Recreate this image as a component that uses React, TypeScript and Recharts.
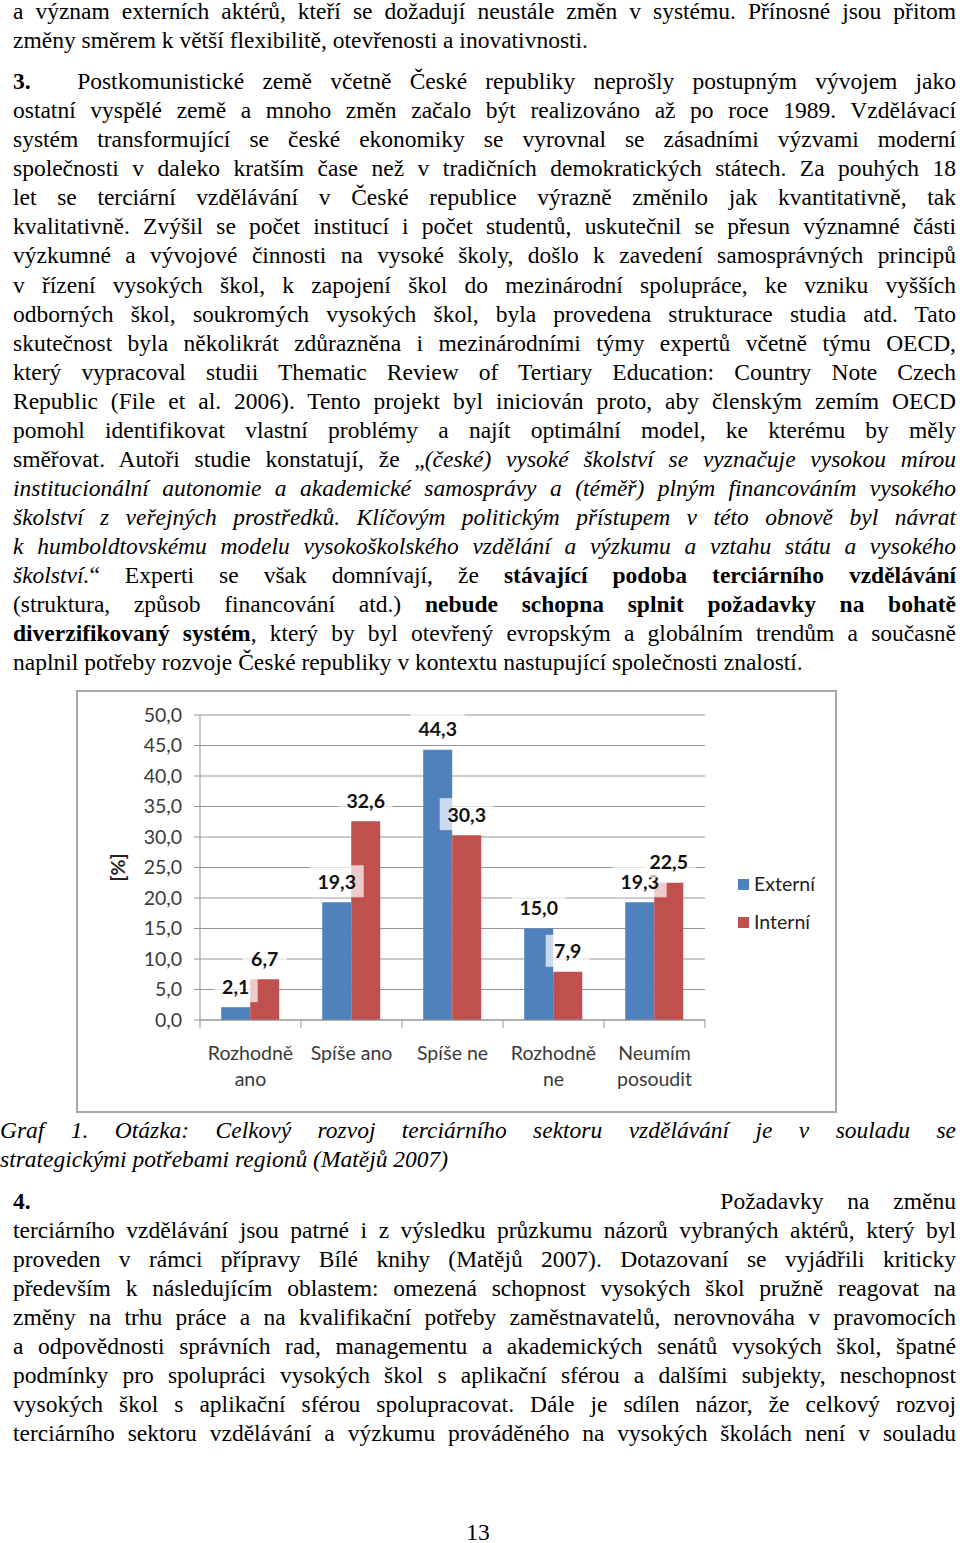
import { BarChart, Bar, XAxis, YAxis, CartesianGrid, Legend, LabelList } from 'recharts'

const categories = ['Rozhodně\nano', 'Spíše ano', 'Spíše ne', 'Rozhodně\nne', 'Neumím\nposoudit']
const externi = [2.1, 19.3, 44.3, 15.0, 19.3]
const interni = [6.7, 32.6, 30.3, 7.9, 22.5]
const yTicks = [0, 5, 10, 15, 20, 25, 30, 35, 40, 45, 50]

const chartData = categories.map((name, i) => ({ name, externi: externi[i], interni: interni[i] }))

const BLUE = '#4F81BD'
const RED = '#C0504D'
const GRID = '#959595'
const SANS = 'Lato, "Open Sans", sans-serif'
const SERIF = '"Liberation Serif", "Times New Roman", serif'
const FS = 19.5

const fmt = (v: number) => v.toFixed(1).replace('.', ',')

function XTick(props: any) {
  const { x, y, payload, index } = props
  const half = payload?.offset || 50.5
  const lines = String(payload.value).split('\n')
  return (
    <g>
      <line x1={x - half} x2={x - half} y1={y - 8} y2={y} stroke={GRID} />
      {index === categories.length - 1 && (
        <line x1={x + half} x2={x + half} y1={y - 8} y2={y} stroke={GRID} />
      )}
      <text x={x} y={y + 25} textAnchor="middle" fill="#3a3a3a" fontSize={FS} fontFamily={SANS}>
        {lines.map((l, i) => (
          <tspan key={i} x={x} dy={i === 0 ? '0.35em' : 26}>{l}</tspan>
        ))}
      </text>
    </g>
  )
}

function YLabel(props: any) {
  const vb = props.viewBox || { x: 0, y: 25, width: 124, height: 305 }
  const cx = vb.x + 41
  const cy = vb.y + vb.height / 2
  return (
    <text x={cx} y={cy} transform={`rotate(-90, ${cx}, ${cy})`} textAnchor="middle"
      dominantBaseline="central" fontWeight={700} fontSize={FS} fontFamily={SANS} fill="#222">
      [%]
    </text>
  )
}

function ValueLabel(props: any) {
  const { x, y, width, value } = props
  const cx = Number(x) + Number(width) / 2
  const cy = Number(y) - 21
  const txt = fmt(Number(value))
  const w = txt.length * 10 + 14
  return (
    <g>
      <rect x={cx - w / 2} y={cy - 16} width={w} height={32} fill="#fff" fillOpacity={0.7} />
      <text x={cx} y={cy} textAnchor="middle" dominantBaseline="central" fontWeight={700}
        fontSize={FS} fontFamily={SANS} fill="#111">
        {txt}
      </text>
    </g>
  )
}

function LegendBox(props: any) {
  const items = props.payload || []
  return (
    <div style={{ fontFamily: SANS, fontSize: FS, color: '#222' }}>
      {items.map((it: any) => (
        <div key={it.value} style={{ display: 'flex', alignItems: 'center', height: 38 }}>
          <span style={{ width: 11, height: 11, background: it.color, marginRight: 5, display: 'inline-block' }} />
          {it.value}
        </div>
      ))}
    </div>
  )
}

const J: React.CSSProperties = { textAlign: 'justify', textAlignLast: 'justify' }

function Page() {
  return (
    <div style={{ position: 'absolute', left: 0, top: 0, width: 960, height: 1543, background: '#fff', fontFamily: SERIF, fontSize: 23.5, lineHeight: '29.05px', color: '#000' }}>
      <div style={{ position: 'absolute', left: 13, top: -2.8, width: 943 }}>
        <div style={J}>a význam externích aktérů, kteří se dožadují neustále změn v systému. Přínosné jsou přitom</div>
        <div>změny směrem k větší flexibilitě, otevřenosti a inovativnosti.</div>
      </div>

      <div style={{ position: 'absolute', left: 13, top: 67.2, width: 943 }}>
        <div style={J}><b style={{ display: 'inline-block', width: 46 }}>3.</b> Postkomunistické země včetně České republiky neprošly postupným vývojem jako</div>
        <div style={J}>ostatní vyspělé země a mnoho změn začalo být realizováno až po roce 1989. Vzdělávací</div>
        <div style={J}>systém transformující se české ekonomiky se vyrovnal se zásadními výzvami moderní</div>
        <div style={J}>společnosti v  daleko kratším čase než v tradičních demokratických státech. Za pouhých 18</div>
        <div style={J}>let se terciární vzdělávání v České republice výrazně změnilo jak kvantitativně, tak</div>
        <div style={J}>kvalitativně. Zvýšil se počet institucí i počet studentů, uskutečnil se přesun významné části</div>
        <div style={J}>výzkumné a vývojové činnosti na vysoké školy, došlo k zavedení samosprávných principů</div>
        <div style={J}>v řízení vysokých škol, k zapojení škol do mezinárodní spolupráce, ke vzniku vyšších</div>
        <div style={J}>odborných škol, soukromých vysokých škol, byla provedena strukturace studia atd. Tato</div>
        <div style={J}>skutečnost byla několikrát zdůrazněna i mezinárodními týmy expertů včetně týmu OECD,</div>
        <div style={J}>který vypracoval studii Thematic Review of Tertiary Education: Country Note Czech</div>
        <div style={J}>Republic (File et al. 2006). Tento projekt byl iniciován proto, aby členským zemím OECD</div>
        <div style={J}>pomohl identifikovat vlastní problémy a najít optimální model, ke kterému by měly</div>
        <div style={J}>směřovat. Autoři studie konstatují, že „<i>(české) vysoké školství se vyznačuje vysokou mírou</i></div>
        <div style={J}><i>institucionální autonomie a akademické samosprávy a (téměř) plným financováním vysokého</i></div>
        <div style={J}><i>školství z veřejných prostředků. Klíčovým politickým přístupem v této obnově byl návrat</i></div>
        <div style={J}><i>k humboldtovskému modelu vysokoškolského vzdělání a výzkumu a vztahu státu a vysokého</i></div>
        <div style={J}><i>školství.</i>“ Experti se však domnívají, že <b>stávající podoba terciárního vzdělávání</b></div>
        <div style={J}>(struktura, způsob financování atd.) <b>nebude schopna splnit požadavky na bohatě</b></div>
        <div style={J}><b>diverzifikovaný systém</b>, který by byl otevřený evropským a globálním trendům a současně</div>
        <div>naplnil potřeby rozvoje České republiky v kontextu nastupující společnosti znalostí.</div>
      </div>

      <div style={{ position: 'absolute', left: 76, top: 690, width: 761, height: 423 }}>
        <BarChart width={761} height={423} data={chartData}
          margin={{ top: 25, right: 132, bottom: 63, left: 0 }}
          barCategoryGap="21%" barGap={0}>
          <CartesianGrid horizontal vertical={false} stroke={GRID} />
          <XAxis dataKey="name" interval={0} tick={<XTick />} tickLine={false} tickSize={8} tickMargin={0}
            axisLine={{ stroke: GRID }} height={30} />
          <YAxis domain={[0, 50]} ticks={yTicks} tickFormatter={fmt} width={124} interval={0}
            tickSize={6} tickMargin={12} axisLine={{ stroke: GRID }} tickLine={{ stroke: GRID }}
            tick={{ fill: '#3a3a3a', fontSize: FS, fontFamily: SANS }}
            label={<YLabel />} />
          <Legend layout="horizontal" verticalAlign="middle" align="center" content={<LegendBox />}
            wrapperStyle={{ left: 662, top: 175, width: 100, height: 76 }} />
          <Bar dataKey="externi" name="Externí" fill={BLUE} isAnimationActive={false}>
            <LabelList dataKey="externi" content={<ValueLabel />} />
          </Bar>
          <Bar dataKey="interni" name="Interní" fill={RED} isAnimationActive={false}>
            <LabelList dataKey="interni" content={<ValueLabel />} />
          </Bar>
        </BarChart>
        <div style={{ position: 'absolute', inset: 0, border: '2px solid #a8a8a8', pointerEvents: 'none' }} />
      </div>

      <div style={{ position: 'absolute', left: 0, top: 1115.8, width: 956, fontStyle: 'italic' }}>
        <div style={J}>Graf 1. Otázka: Celkový rozvoj terciárního sektoru vzdělávání je v souladu se</div>
        <div>strategickými potřebami regionů (Matějů 2007)</div>
      </div>

      <div style={{ position: 'absolute', left: 13, top: 1186.8, width: 943 }}>
        <div style={{ display: 'flex', justifyContent: 'space-between' }}>
          <b>4.</b><span style={{ wordSpacing: 18 }}>Požadavky na změnu</span>
        </div>
        <div style={J}>terciárního vzdělávání jsou patrné i z výsledku průzkumu názorů vybraných aktérů, který byl</div>
        <div style={J}>proveden v rámci přípravy Bílé knihy (Matějů 2007). Dotazovaní se vyjádřili kriticky</div>
        <div style={J}>především k následujícím oblastem: omezená schopnost vysokých škol pružně reagovat na</div>
        <div style={J}>změny na trhu práce a na kvalifikační potřeby zaměstnavatelů, nerovnováha v pravomocích</div>
        <div style={J}>a odpovědnosti správních rad, managementu a akademických senátů vysokých škol, špatné</div>
        <div style={J}>podmínky pro spolupráci vysokých škol s aplikační sférou a dalšími subjekty, neschopnost</div>
        <div style={J}>vysokých škol s aplikační sférou spolupracovat. Dále je sdílen názor, že celkový rozvoj</div>
        <div style={J}>terciárního sektoru vzdělávání a výzkumu prováděného na vysokých školách není v souladu</div>
      </div>

      <div style={{ position: 'absolute', left: 0, top: 1518, width: 956, textAlign: 'center' }}>13</div>
    </div>
  )
}

export default function App() {
  return <Page />
}
